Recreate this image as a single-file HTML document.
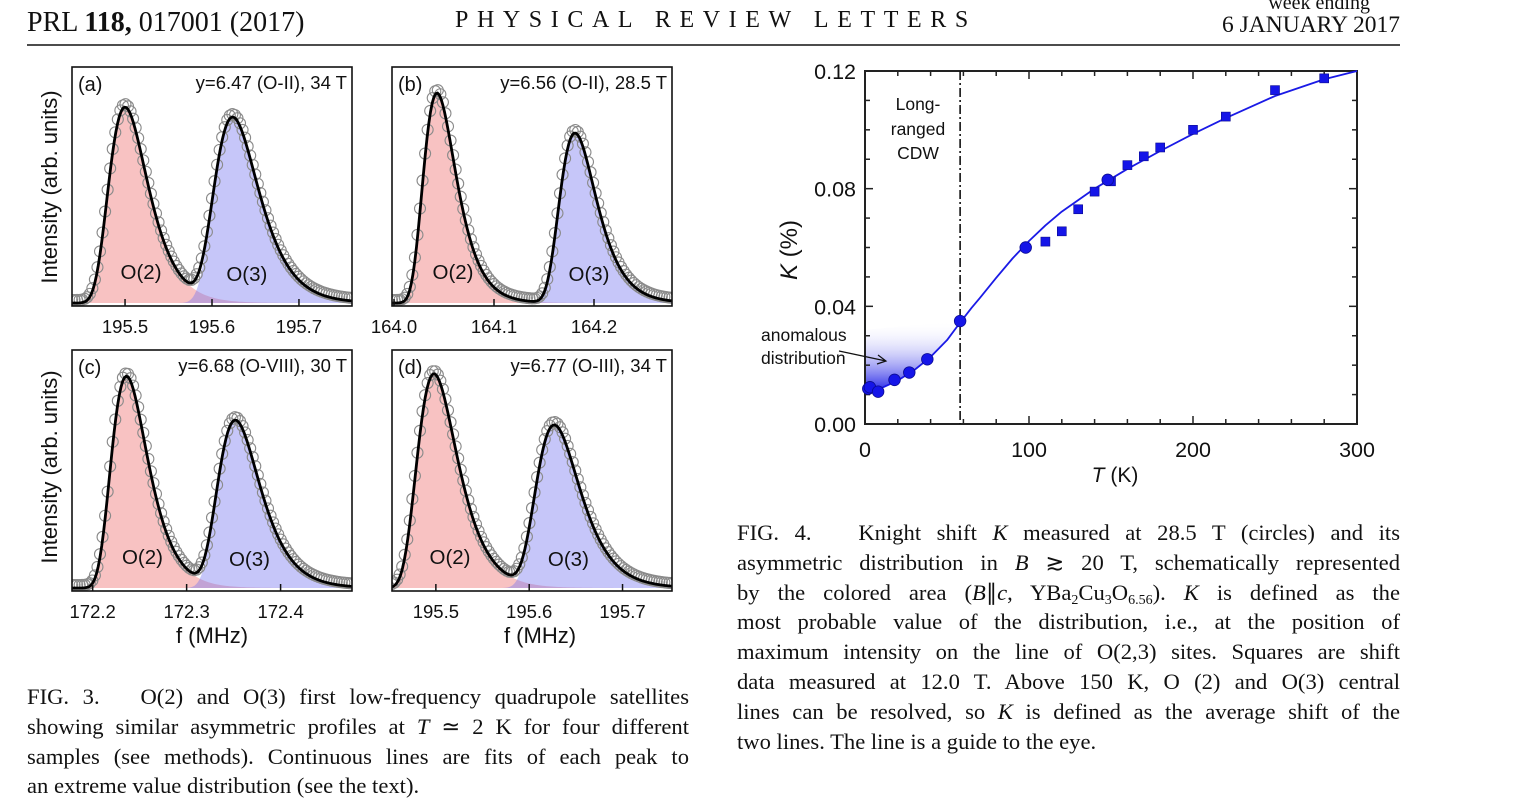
<!DOCTYPE html>
<html><head><meta charset="utf-8"><style>
body{margin:0;background:#fff;width:1514px;height:798px;overflow:hidden;position:relative}
svg{position:absolute;left:0;top:0}
.cap{position:absolute;font-family:"Liberation Serif",serif;font-size:22.6px;color:#111;line-height:29.8px}
.cap div{text-align:justify;text-align-last:justify;white-space:nowrap;height:29.8px}
.cap div.last{text-align-last:left}
.cap sub{font-size:14px;line-height:0;vertical-align:-4px}
</style></head><body>
<svg width="1514" height="798" viewBox="0 0 1514 798" font-family="Liberation Sans, sans-serif" id="svg">
<g font-family="Liberation Serif, serif" fill="#111">
<text x="27" y="31" font-size="28">PRL <tspan font-weight="bold">118,</tspan> 017001 (2017)</text>
<text x="455" y="27" font-size="24" letter-spacing="8.6">PHYSICAL REVIEW LETTERS</text>
<text x="1370" y="9" font-size="20" text-anchor="end">week ending</text>
<text x="1400" y="32" font-size="23.5" text-anchor="end">6 JANUARY 2017</text>
<line x1="27" y1="45" x2="1400" y2="45" stroke="#111" stroke-width="1.5"/>
</g>
<g id="fig3"></g>
<g id="fig4"></g>
</svg>
<div class="cap" style="left:27px;top:682px;width:662px">
<div>FIG. 3.&nbsp;&nbsp; O(2) and O(3) first low-frequency quadrupole satellites</div>
<div>showing similar asymmetric profiles at <i>T</i> ≃ 2 K for four different</div>
<div>samples (see methods). Continuous lines are fits of each peak to</div>
<div class="last">an extreme value distribution (see the text).</div>
</div>
<div class="cap" style="left:737px;top:518px;width:663px">
<div>FIG. 4.&nbsp;&nbsp; Knight shift <i>K</i> measured at 28.5 T (circles) and its</div>
<div>asymmetric distribution in <i>B</i> ≳ 20 T, schematically represented</div>
<div>by the colored area (<i>B</i>∥<i>c</i>, YBa<sub>2</sub>Cu<sub>3</sub>O<sub>6.56</sub>). <i>K</i> is defined as the</div>
<div>most probable value of the distribution, i.e., at the position of</div>
<div>maximum intensity on the line of O(2,3) sites. Squares are shift</div>
<div>data measured at 12.0 T. Above 150 K, O (2) and O(3) central</div>
<div>lines can be resolved, so <i>K</i> is defined as the average shift of the</div>
<div class="last">two lines. The line is a guide to the eye.</div>
</div>
<script>
// ===== FIG 4 data =====
const circleT=[2,3,8,18,27,38,58,98,148];
const circleK=[0.012,0.0125,0.011,0.015,0.0175,0.022,0.035,0.060,0.083];
const squareT=[110,120,130,140,150,160,170,180,200,220,250,280];
const squareK=[0.062,0.0655,0.073,0.079,0.0825,0.088,0.091,0.094,0.100,0.1045,0.1135,0.1175];
const guideT=[0,5,10,20,30,40,50,58,65,70,80,90,100,110,120,140,160,180,200,220,250,280,300];
const guideK=[0.0105,0.011,0.0122,0.0148,0.0183,0.0228,0.0285,0.0345,0.0395,0.0428,0.0497,0.0563,0.0622,0.0675,0.0722,0.0800,0.0867,0.0928,0.0986,0.1040,0.1115,0.1172,0.1200];
const yTicks=[0,0.04,0.08,0.12];
const yTickLabels=["0.00","0.04","0.08","0.12"];
const xTicks=[0,100,200,300];
const xTickLabels=["0","100","200","300"];
const cdwT=58;

const NS="http://www.w3.org/2000/svg";
function mk(tag,attrs,parent){const e=document.createElementNS(NS,tag);for(const k in attrs)e.setAttribute(k,attrs[k]);parent.appendChild(e);return e;}

const f4=document.getElementById('fig4');
const X0=865,X1=1357,Y0=424,Y1=71;
const sx=t=>X0+(t-0)/300*(X1-X0);
const sy=k=>Y0-(k/0.12)*(Y0-Y1);
const defs=mk('defs',{},f4);
const lg=mk('linearGradient',{id:'anom',x1:0,y1:0,x2:0,y2:1},defs);
mk('stop',{offset:'0','stop-color':'#ffffff','stop-opacity':'0'},lg);
mk('stop',{offset:'1','stop-color':'#1a1ae6'},lg);
let ap=`M${sx(0)},${sy(0.032)} L${sx(cdwT)},${sy(0.035)}`;
for(let i=guideT.length-1;i>=0;i--){if(guideT[i]<=cdwT)ap+=` L${sx(guideT[i])},${sy(guideK[i])}`;}
ap+=' Z';
const area=mk('path',{d:ap,fill:'url(#anom)'},f4);


const fr=mk('rect',{x:X0,y:Y1,width:X1-X0,height:Y0-Y1,fill:'none',stroke:'#222','stroke-width':2},f4);


for(let k=0;k<=0.1201;k+=0.01){const maj=Math.abs(k/0.04-Math.round(k/0.04))<1e-6;const L=maj?8:5;
 mk('line',{x1:X0,y1:sy(k),x2:X0+L,y2:sy(k),stroke:'#222','stroke-width':1.5},f4);
 mk('line',{x1:X1,y1:sy(k),x2:X1-L,y2:sy(k),stroke:'#222','stroke-width':1.5},f4);}
for(let t=0;t<=300;t+=20){const L=(t%100===0)?8:5;
 mk('line',{x1:sx(t),y1:Y0,x2:sx(t),y2:Y0-L,stroke:'#222','stroke-width':1.5},f4);
 mk('line',{x1:sx(t),y1:Y1,x2:sx(t),y2:Y1+L,stroke:'#222','stroke-width':1.5},f4);}
yTicks.forEach((v,i)=>{const t=mk('text',{x:X0-9,y:sy(v)+8,'font-size':21.5,'text-anchor':'end',fill:'#111'},f4);t.textContent=yTickLabels[i];
 
 });
xTicks.forEach((v,i)=>{const t=mk('text',{x:sx(v),y:Y0+33,'font-size':21.5,'text-anchor':'middle',fill:'#111'},f4);t.textContent=xTickLabels[i];
 
 });
const yt=mk('text',{x:0,y:0,'font-size':24,'text-anchor':'middle',fill:'#111',transform:'translate(797,250) rotate(-90)'},f4);
yt.innerHTML='<tspan font-style="italic">K</tspan> (%)';


const xt=mk('text',{x:1115,y:482,'font-size':21,'text-anchor':'middle',fill:'#111'},f4);
xt.innerHTML='<tspan font-style="italic">T</tspan> (K)';


const cl=mk('line',{x1:sx(cdwT),y1:Y1,x2:sx(cdwT),y2:Y0,stroke:'#111','stroke-width':1.6,'stroke-dasharray':'9,3,2,3'},f4);


[['Long-',110],['ranged',135],['CDW',159]].forEach(([s,y])=>{const t=mk('text',{x:918,y:y,'font-size':17.5,'text-anchor':'middle',fill:'#111'},f4);t.textContent=s;
 
 });
[['anomalous',341],['distribution',364]].forEach(([s,y])=>{const t=mk('text',{x:761,y:y,'font-size':17.5,fill:'#111'},f4);t.textContent=s;
 
 });
const ar=mk('path',{d:'M839,351 L886,361 M878,355 L886,361 L877,364',fill:'none',stroke:'#111','stroke-width':1.2},f4);


let gp='';guideT.forEach((t,i)=>{gp+=(i?' L':'M')+sx(t)+','+sy(guideK[i]);});
const gl=mk('path',{d:gp,fill:'none',stroke:'#1a1ae6','stroke-width':1.8,'stroke-linejoin':'round'},f4);


squareT.forEach((t,i)=>{const r=mk('rect',{x:sx(t)-4.5,y:sy(squareK[i])-4.5,width:9,height:9,fill:'#1515e8',stroke:'#0a0a90','stroke-width':0.6},f4);
 
 });
circleT.forEach((t,i)=>{const c=mk('circle',{cx:sx(t),cy:sy(circleK[i]),r:5.8,fill:'#1515e8',stroke:'#0a0a90','stroke-width':0.8},f4);
 
 });

// ===== FIG 3 data =====
const panelLabels=["(a)","(b)","(c)","(d)"];
const panelTitles=["y=6.47 (O-II), 34 T","y=6.56 (O-II), 28.5 T","y=6.68 (O-VIII), 30 T","y=6.77 (O-III), 34 T"];
const panelXMin=[195.439,163.998,172.178,195.453];
const panelXMax=[195.761,164.278,172.476,195.753];
const tickVals=[[195.5,195.6,195.7],[164.0,164.1,164.2],[172.2,172.3,172.4],[195.5,195.6,195.7]];
const tickLabels=[["195.5","195.6","195.7"],["164.0","164.1","164.2"],["172.2","172.3","172.4"],["195.5","195.6","195.7"]];
const o2Peak=[[195.500,0.022,0.83],[164.043,0.016,0.89],[172.236,0.019,0.89],[195.498,0.021,0.90]];
const o3Peak=[[195.624,0.025,0.78],[164.181,0.018,0.72],[172.352,0.022,0.70],[195.627,0.023,0.68]];
const boxes=[[72,67,280,239],[392,67,280,239],[72,350,280,241],[392,350,280,241]];
const f3=document.getElementById('fig3');
const g=(x,p)=>{const z=(x-p[0])/p[1];return p[2]*Math.exp(1-z-Math.exp(-z));};
boxes.forEach((b,pi)=>{
 const [bx,by,bw,bh]=b;const xm=panelXMin[pi],xM=panelXMax[pi];
 const px=x=>bx+(x-xm)/(xM-xm)*bw;const py=v=>by+bh-3-v*(bh-3);
 const pg=mk('g',{},f3);
 
 
 const cid='clip'+pi;const cp=mk('clipPath',{id:cid},pg);mk('rect',{x:bx,y:by,width:bw,height:bh},cp);
 const inner=mk('g',{'clip-path':`url(#${cid})`},pg);
 const N=160;
 [[o2Peak[pi],'rgba(240,120,120,0.45)','o2-fill'],[o3Peak[pi],'rgba(120,120,240,0.42)','o3-fill']].forEach(([p,col,nm])=>{
  let d=`M${px(xm)},${py(0)}`;for(let i=0;i<=N;i++){const x=xm+(xM-xm)*i/N;d+=` L${px(x)},${py(g(x,p))}`;}d+=` L${px(xM)},${py(0)} Z`;
  const a=mk('path',{d:d,fill:col},inner);
  
  });
 for(let i=0;i<=110;i++){const x=xm+(xM-xm)*i/110;const v=g(x,o2Peak[pi])+g(x,o3Peak[pi]);
  const c=mk('circle',{cx:px(x),cy:py(v)-3,r:5.5,fill:'none',stroke:'#8a8a8a','stroke-width':1.1},inner);
  
  }
 let d='';for(let i=0;i<=N;i++){const x=xm+(xM-xm)*i/N;d+=(i?' L':'M')+px(x)+','+py(g(x,o2Peak[pi])+g(x,o3Peak[pi]));}
 const fl=mk('path',{d:d,fill:'none',stroke:'#000','stroke-width':2.8},inner);
 
 
 const fr=mk('rect',{x:bx,y:by,width:bw,height:bh,fill:'none',stroke:'#111','stroke-width':1.6},pg);
 
 
 tickVals[pi].forEach((v,i)=>{mk('line',{x1:px(v),y1:by+bh,x2:px(v),y2:by+bh-7,stroke:'#111','stroke-width':1.5},pg);
  const t=mk('text',{x:px(v),y:by+bh+27,'font-size':18.5,'text-anchor':'middle',fill:'#111'},pg);t.textContent=tickLabels[pi][i];
  
  });
 const l=mk('text',{x:bx+6,y:by+24,'font-size':20,fill:'#111'},pg);l.textContent=panelLabels[pi];
 
 
 const tt=mk('text',{x:bx+bw-5,y:by+22,'font-size':18.5,'text-anchor':'end',fill:'#111'},pg);tt.textContent=panelTitles[pi];
 
 
 const o2=mk('text',{x:px(o2Peak[pi][0])+16,y:by+bh-27,'font-size':20.5,'text-anchor':'middle',fill:'#111'},pg);o2.textContent='O(2)';
 
 
 const o3=mk('text',{x:px(o3Peak[pi][0])+14,y:by+bh-25,'font-size':20.5,'text-anchor':'middle',fill:'#111'},pg);o3.textContent='O(3)';
 
 
});
[[187],[467]].forEach(([cy])=>{const t=mk('text',{x:0,y:0,'font-size':22,'text-anchor':'middle',fill:'#111',transform:`translate(57,${cy}) rotate(-90)`},f3);t.textContent='Intensity (arb. units)';
 
 });
[[212],[540]].forEach(([cx])=>{const t=mk('text',{x:cx,y:643,'font-size':22,'text-anchor':'middle',fill:'#111'},f3);t.textContent='f (MHz)';
 
 });
</script>
</body></html>
